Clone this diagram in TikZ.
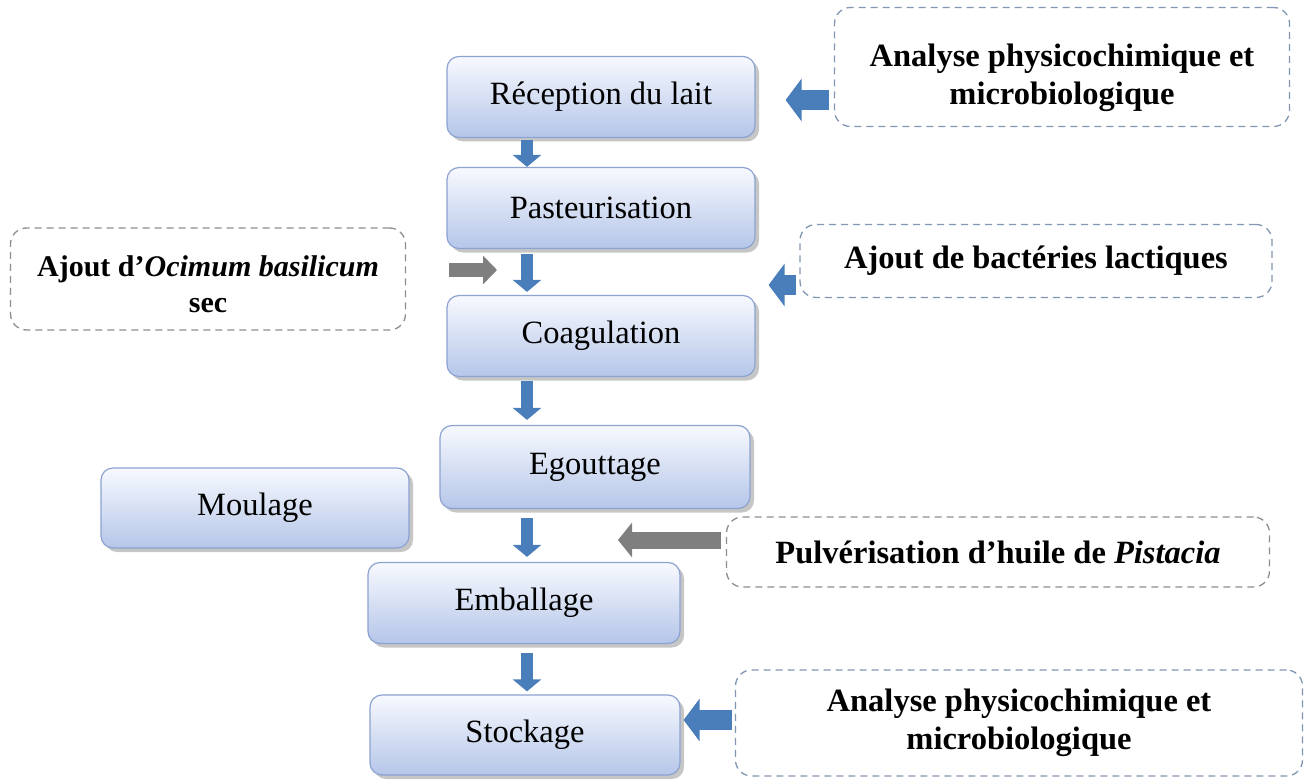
\documentclass[tikz,border=0pt]{standalone}
\usepackage{fontspec}
\setmainfont{Liberation Serif}
\usetikzlibrary{arrows.meta,shadows}
\definecolor{boxborder}{HTML}{8CA2D0}
\definecolor{boxbottom}{HTML}{B5C6E9}
\definecolor{boxtop}{HTML}{F7F9FE}
\definecolor{arrblue}{HTML}{4A7EBB}
\definecolor{arrgray}{HTML}{7F7F7F}
\definecolor{dashblue}{HTML}{8196B0}
\definecolor{dashgray}{HTML}{8E8E8E}
\tikzset{
  proc/.style={draw=boxborder, line width=1.2pt, rounded corners=12pt,
    top color=boxtop, bottom color=boxbottom,
    drop shadow={shadow xshift=4pt, shadow yshift=-4pt, fill=black!50, opacity=0.45},
    font=\fontsize{32.5}{38}\selectfont, align=center, inner sep=0pt},
  side/.style={draw=#1, dash pattern=on 7pt off 5pt, line width=1.3pt, rounded corners=16pt,
    fill=white, font=\fontsize{32.5}{38}\selectfont\bfseries, align=center, inner sep=0pt},
  vblue/.style={draw=arrblue, line width=12pt, -{Triangle[width=28pt,length=12pt]}},
  hblue/.style={draw=arrblue, line width=20pt, -{Triangle[width=42pt,length=16pt]}},
  hgray/.style={draw=arrgray, line width=#1, -{Triangle[width=2*#1,length=14pt]}},
}
\newcommand{\twolines}[3]{\raisebox{#1}[\height][\depth]{\begin{tabular}{@{}c@{}}#2\\#3\end{tabular}}}
\begin{document}
\begin{tikzpicture}[x=1pt,y=-1pt]
\useasboundingbox (0,0) rectangle (1314,781);

% process boxes
\node[proc, minimum width=308pt, minimum height=81pt] (rec) at (601,97) {Réception du lait};
\node[proc, minimum width=308pt, minimum height=81pt] (pas) at (601,208) {Pasteurisation};
\node[proc, minimum width=308pt, minimum height=81pt] (coag) at (601,336) {Coagulation};
\node[proc, minimum width=310pt, minimum height=83pt] (egout) at (595,467) {Egouttage};
\node[proc, minimum width=308pt, minimum height=80pt] (moul) at (255,508) {Moulage};
\node[proc, minimum width=312pt, minimum height=81pt] (emb) at (524,603) {Emballage};
\node[proc, minimum width=310pt, minimum height=80pt] (stock) at (525,735) {Stockage};

% side boxes
\node[side=dashblue, minimum width=455pt, minimum height=119pt] (an1) at (1062,67)
  {\twolines{-11pt}{Analyse physicochimique et}{microbiologique}};
\node[side=dashgray, minimum width=395pt, minimum height=102pt, font=\fontsize{30}{36}\selectfont\bfseries] (oci) at (208,279)
  {\twolines{-8pt}{Ajout d’\textit{Ocimum basilicum}}{sec}};
\node[side=dashblue, minimum width=472pt, minimum height=73pt] (bac) at (1036,261) {Ajout de bactéries lactiques};
\node[side=dashgray, minimum width=543pt, minimum height=70pt] (pul) at (998,552) {Pulvérisation d’huile de \textit{Pistacia}};
\node[side=dashblue, minimum width=567pt, minimum height=106pt] (an2) at (1019,723)
  {\twolines{0pt}{Analyse physicochimique et}{microbiologique}};

% helper coordinates
\coordinate (col) at (527,0);
\coordinate (bacy) at (0,285);
\coordinate (ociy) at (0,270);
\coordinate (ocitip) at (497,270);
\coordinate (pultip) at (618,540);

% vertical flow arrows
\draw[vblue] ([yshift=-2pt]col |- rec.south) -- (col |- pas.north);
\draw[vblue] ([yshift=-5pt]col |- pas.south) -- ([yshift=3pt]col |- coag.north);
\draw[vblue] ([yshift=-4pt]col |- coag.south) -- ([yshift=5pt]col |- egout.north);
\draw[vblue] ([yshift=-9pt]col |- egout.south) -- ([yshift=5pt]col |- emb.north);
\draw[vblue] ([yshift=-9pt]col |- emb.south) -- ([yshift=3pt]col |- stock.north);

% side arrows
\draw[hblue] ([xshift=-5pt,yshift=-3pt]an1.west |- rec.east) -- ([xshift=30pt,yshift=-3pt]rec.east);
\draw[hblue] ([xshift=-3pt]bac.west |- bacy) -- ([xshift=13pt]coag.east |- bacy);
\draw[hblue] ([xshift=-3pt,yshift=15pt]an2.west |- stock.east) -- ([xshift=3pt,yshift=15pt]stock.east);
\draw[hgray=14pt] ([xshift=43pt]oci.east |- ociy) -- (ocitip);
\draw[hgray=17pt] ([xshift=-5pt]pul.west |- pultip) -- (pultip);
\end{tikzpicture}
\end{document}
